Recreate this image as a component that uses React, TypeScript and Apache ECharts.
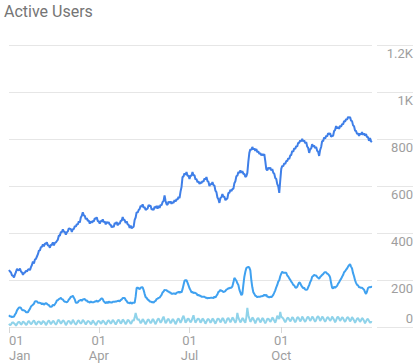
import React, { useEffect, useRef } from "react";
import * as echarts from "echarts";

const chartTitle = "Active Users";
const monthNames = ["Jan", "Feb", "Mar", "Apr", "May", "Jun", "Jul", "Aug", "Sep", "Oct", "Nov", "Dec"];
const labelMonths = ["01", "04", "07", "10"];
const yMin = 0;
const yMax = 1200;
const yStep = 200;

// daily values, 1 Jan .. 31 Dec
const usersTop = [
  243, 236, 232, 220, 218, 211, 224, 234, 248, 242,
  241, 249, 236, 232, 222, 230, 232, 239, 236, 244,
  246, 242, 255, 264, 279, 270, 287, 290, 300, 310,
  325, 326, 340, 341, 352, 343, 355, 354, 360, 347,
  347, 337, 350, 349, 360, 347, 358, 360, 366, 372,
  389, 388, 404, 403, 416, 405, 405, 393, 403, 407,
  420, 418, 417, 405, 416, 417, 430, 427, 438, 436,
  450, 444, 466, 473, 488, 475, 473, 459, 463, 452,
  453, 440, 449, 444, 451, 449, 462, 461, 467, 451,
  449, 440, 452, 449, 458, 446, 449, 436, 448, 442,
  446, 436, 435, 424, 429, 426, 442, 439, 447, 432,
  442, 439, 452, 452, 468, 456, 455, 443, 450, 436,
  435, 422, 431, 420, 424, 427, 456, 466, 489, 486,
  498, 502, 516, 512, 522, 508, 510, 498, 502, 504,
  519, 515, 516, 500, 502, 498, 512, 507, 515, 504,
  515, 507, 520, 518, 532, 536, 560, 536, 522, 520,
  534, 528, 534, 524, 532, 528, 540, 534, 544, 542,
  554, 549, 576, 596, 638, 641, 654, 648, 659, 644,
  644, 630, 644, 644, 659, 646, 646, 628, 630, 616,
  620, 609, 616, 612, 621, 618, 632, 628, 638, 621,
  618, 600, 610, 606, 617, 604, 602, 580, 574, 551,
  544, 528, 549, 552, 566, 554, 554, 540, 544, 548,
  570, 571, 584, 578, 587, 588, 612, 620, 642, 644,
  659, 656, 666, 656, 664, 651, 652, 638, 642, 656,
  704, 741, 756, 754, 766, 756, 760, 750, 757, 744,
  748, 736, 740, 730, 736, 730, 736, 706, 672, 666,
  678, 673, 678, 666, 672, 656, 652, 634, 630, 608,
  599, 571, 624, 673, 686, 684, 696, 694, 706, 706,
  718, 715, 730, 732, 749, 746, 760, 758, 770, 768,
  784, 783, 794, 790, 800, 790, 794, 782, 787, 768,
  762, 741, 756, 760, 778, 768, 772, 761, 766, 750,
  746, 728, 754, 766, 791, 791, 806, 802, 813, 811,
  824, 821, 824, 810, 813, 814, 834, 838, 855, 845,
  851, 843, 856, 852, 864, 862, 876, 874, 885, 882,
  894, 890, 894, 878, 876, 858, 854, 836, 834, 822,
  824, 813, 824, 819, 829, 818, 824, 814, 821, 808,
  809, 792, 804, 790, 787,
];

const usersMiddle = [
  50, 45, 45, 42, 44, 44, 53, 59, 71, 77,
  83, 83, 81, 73, 71, 71, 69, 63, 63, 63,
  71, 77, 87, 91, 95, 99, 109, 110, 109, 103,
  103, 103, 101, 97, 101, 95, 99, 101, 99, 95,
  93, 87, 86, 87, 95, 91, 97, 103, 113, 114,
  119, 121, 124, 119, 117, 111, 107, 107, 105, 109,
  117, 121, 129, 129, 133, 125, 117, 103, 103, 105,
  111, 113, 116, 111, 117, 118, 119, 113, 113, 107,
  107, 103, 109, 105, 105, 105, 109, 109, 112, 107,
  111, 113, 119, 122, 119, 109, 105, 101, 107, 101,
  109, 103, 107, 103, 107, 107, 107, 109, 109, 111,
  112, 109, 115, 117, 123, 123, 124, 115, 111, 103,
  103, 101, 105, 99, 103, 103, 103, 129, 167, 167,
  165, 161, 167, 169, 169, 157, 141, 127, 124, 117,
  115, 109, 109, 105, 107, 103, 109, 111, 119, 121,
  124, 125, 131, 137, 147, 151, 158, 157, 156, 152,
  151, 147, 147, 141, 141, 143, 143, 139, 146, 147,
  150, 145, 151, 147, 161, 179, 197, 199, 199, 189,
  177, 165, 157, 148, 149, 144, 147, 144, 143, 135,
  137, 133, 133, 129, 129, 129, 129, 125, 125, 122,
  123, 123, 124, 124, 124, 123, 129, 125, 133, 139,
  150, 151, 158, 154, 153, 148, 151, 153, 159, 161,
  165, 165, 167, 167, 173, 189, 209, 203, 197, 186,
  179, 159, 147, 135, 141, 179, 214, 235, 251, 254,
  256, 253, 241, 199, 169, 148, 141, 133, 131, 127,
  129, 129, 129, 131, 131, 133, 137, 133, 137, 129,
  129, 125, 129, 127, 131, 137, 146, 156, 169, 179,
  193, 199, 216, 227, 235, 231, 231, 231, 231, 219,
  215, 207, 201, 193, 188, 179, 177, 169, 167, 171,
  181, 190, 187, 177, 171, 165, 167, 159, 158, 159,
  169, 178, 191, 199, 214, 217, 222, 219, 219, 213,
  209, 205, 213, 217, 222, 225, 231, 233, 233, 227,
  225, 220, 211, 187, 167, 164, 171, 167, 171, 175,
  185, 190, 199, 205, 214, 221, 233, 237, 244, 249,
  257, 263, 267, 257, 249, 229, 216, 199, 188, 179,
  177, 169, 169, 167, 167, 163, 159, 148, 141, 151,
  166, 169, 169, 171, 170,
];

const usersBottom = [
  14, 8, 10, 18, 20, 16, 12, 6, 12, 20,
  22, 18, 10, 14, 24, 20, 16, 8, 12, 22,
  26, 18, 12, 16, 24, 28, 20, 10, 14, 22,
  24, 20, 12, 16, 26, 22, 18, 8, 14, 24,
  28, 20, 12, 18, 26, 24, 16, 10, 16, 28,
  30, 22, 14, 20, 28, 26, 18, 8, 14, 24,
  26, 22, 12, 18, 30, 24, 16, 10, 16, 26,
  28, 20, 14, 20, 30, 26, 18, 10, 18, 26,
  24, 20, 12, 16, 28, 22, 16, 8, 14, 24,
  26, 22, 14, 18, 28, 24, 18, 10, 16, 26,
  28, 22, 14, 20, 30, 26, 18, 10, 18, 28,
  30, 24, 14, 20, 32, 28, 20, 12, 18, 30,
  28, 22, 14, 18, 30, 26, 40, 60, 42, 30,
  34, 26, 16, 22, 34, 28, 20, 12, 20, 30,
  32, 24, 16, 22, 34, 30, 20, 12, 22, 32,
  36, 28, 18, 24, 36, 44, 30, 16, 22, 32,
  34, 26, 16, 22, 34, 30, 22, 12, 20, 32,
  36, 28, 18, 26, 40, 48, 34, 18, 24, 34,
  36, 28, 20, 26, 38, 50, 32, 18, 26, 34,
  36, 30, 18, 24, 36, 32, 24, 14, 22, 32,
  34, 28, 18, 24, 36, 32, 22, 14, 24, 34,
  36, 30, 20, 26, 38, 34, 24, 16, 24, 36,
  38, 30, 20, 28, 40, 36, 26, 18, 28, 60,
  40, 30, 20, 26, 38, 34, 24, 18, 40, 81,
  50, 36, 22, 28, 40, 36, 26, 16, 26, 36,
  38, 30, 20, 26, 38, 34, 24, 16, 24, 34,
  36, 30, 22, 28, 40, 36, 26, 18, 30, 48,
  40, 34, 64, 44, 40, 36, 28, 20, 28, 38,
  40, 32, 24, 30, 42, 38, 28, 20, 28, 40,
  42, 34, 24, 30, 44, 38, 28, 22, 30, 40,
  44, 36, 26, 32, 44, 40, 30, 22, 30, 42,
  46, 38, 26, 32, 44, 40, 30, 22, 30, 40,
  42, 34, 26, 32, 44, 38, 30, 20, 28, 40,
  44, 36, 26, 32, 42, 38, 28, 22, 30, 40,
  42, 34, 24, 30, 42, 36, 28, 18, 26, 36,
  38, 30, 22, 28, 38, 34, 26, 16, 24, 32,
  34, 26, 18, 22, 20,
];

function buildDays(count: number): string[] {
  const out: string[] = [];
  const start = Date.UTC(2021, 0, 1);
  for (let i = 0; i < count; i++) {
    out.push(new Date(start + i * 86400000).toISOString().slice(0, 10));
  }
  return out;
}

const days = buildDays(usersTop.length);

const isQuarterStart = (_i: number, v: string) =>
  v.slice(8, 10) === "01" && labelMonths.indexOf(v.slice(5, 7)) >= 0;

export default function App() {
  const ref = useRef<HTMLDivElement>(null);

  useEffect(() => {
    if (!ref.current) return;
    const chart = echarts.init(ref.current, undefined, { renderer: "svg" });
    const font = "Roboto, 'Noto Sans', Arial, sans-serif";
    const gridColor = "#e6e6e6";
    const textColor = "#9e9e9e";
    chart.setOption({
      animation: false,
      backgroundColor: "#ffffff",
      textStyle: { fontFamily: font },
      title: {
        text: chartTitle,
        left: 4,
        top: 3,
        padding: 0,
        textStyle: { fontSize: 16, fontWeight: "normal", color: "#757575", fontFamily: font },
      },
      grid: [
        { left: 9, right: 48, top: 45, bottom: 36 },
        { left: 377, right: 7, top: 45, bottom: 36 },
      ],
      xAxis: [
        {
          type: "category",
          gridIndex: 0,
          data: days,
          boundaryGap: false,
          axisLine: { show: false },
          axisTick: {
            show: true,
            interval: isQuarterStart,
            length: 6,
            lineStyle: { color: "#d6d6d6" },
          },
          axisLabel: {
            interval: isQuarterStart,
            formatter: (v: string) => "01\n" + monthNames[parseInt(v.slice(5, 7), 10) - 1],
            color: textColor,
            fontSize: 13,
            lineHeight: 15,
            margin: 6,
            fontFamily: font,
            alignMinLabel: "left",
          },
          splitLine: { show: false },
        },
        { type: "value", gridIndex: 1, show: false, min: 0, max: 1 },
      ],
      yAxis: [
        {
          type: "value",
          gridIndex: 0,
          min: yMin,
          max: yMax,
          interval: yStep,
          position: "right",
          axisLine: { show: false },
          axisTick: { show: false },
          axisLabel: { show: false },
          splitLine: { show: true, lineStyle: { color: gridColor, width: 1 } },
        },
        {
          type: "value",
          gridIndex: 1,
          min: yMin,
          max: yMax,
          interval: yStep,
          position: "right",
          axisLine: { show: false },
          axisTick: { show: false },
          axisLabel: {
            inside: true,
            margin: 0,
            color: textColor,
            fontSize: 13,
            fontFamily: font,
            verticalAlign: "top",
            verticalAlignMinLabel: "bottom",
            padding: [2, 0, 2, 0],
            formatter: (v: number) => (v >= 1000 ? v / 1000 + "K" : String(v)),
          },
          splitLine: { show: true, lineStyle: { color: gridColor, width: 1 } },
        },
      ],
      series: [
        {
          type: "line",
          xAxisIndex: 0,
          yAxisIndex: 0,
          data: usersBottom,
          showSymbol: false,
          lineStyle: { color: "#8fd3ea", width: 2 },
          itemStyle: { color: "#8fd3ea" },
        },
        {
          type: "line",
          xAxisIndex: 0,
          yAxisIndex: 0,
          data: usersMiddle,
          showSymbol: false,
          lineStyle: { color: "#3fa1f0", width: 2 },
          itemStyle: { color: "#3fa1f0" },
        },
        {
          type: "line",
          xAxisIndex: 0,
          yAxisIndex: 0,
          data: usersTop,
          showSymbol: false,
          lineStyle: { color: "#3f7fe8", width: 2 },
          itemStyle: { color: "#3f7fe8" },
        },
      ],
    });
    return () => chart.dispose();
  }, []);

  return (
    <div
      ref={ref}
      style={{ position: "fixed", left: 0, top: 0, width: 420, height: 363, background: "#fff" }}
    />
  );
}
